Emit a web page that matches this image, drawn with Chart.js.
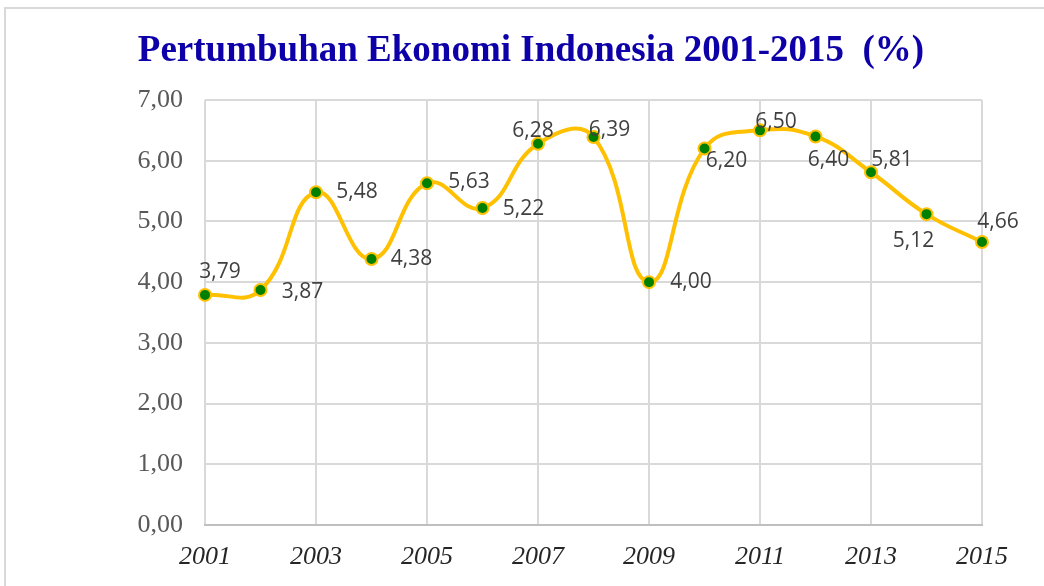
<!DOCTYPE html>
<html>
<head>
<meta charset="utf-8">
<script src="https://cdn.jsdelivr.net/npm/chart.js@4/dist/chart.umd.min.js"></script>
<style>
  html, body { margin: 0; padding: 0; background: #fff; overflow: hidden; }
  #frame { position: absolute; left: 4px; top: 7px; width: 1100px; height: 700px; border: 2px solid #d9d9d9; }
  #wrap { position: absolute; left: 0; top: 0; width: 1044px; height: 586px; }
</style>
</head>
<body>
<div id="frame"></div>
<div id="wrap"><canvas id="myChart" width="1044" height="586"></canvas></div>
<script>
// data
const years = ['2001', '2002', '2003', '2004', '2005', '2006', '2007', '2008',
               '2009', '2010', '2011', '2012', '2013', '2014', '2015'];
const growth = [3.79, 3.87, 5.48, 4.38, 5.63, 5.22, 6.28, 6.39,
                4.00, 6.20, 6.50, 6.40, 5.81, 5.12, 4.66];
const yTicks = [0, 1, 2, 3, 4, 5, 6, 7];

// where each value label sits relative to its point (dx, dy)
const labelOffsets = [
    [15, -23], [42, 2], [41, 0], [40, 0], [42, -1], [41, 1], [-5, -13], [16, -7],
    [42, 0], [22, 12], [16, -8], [13, 24], [21, -12], [-13, 27], [16, -20]
];

function fmt(v) {
    return v.toFixed(2).replace('.', ',');
}

const valueLabels = {
    id: 'valueLabels',
    afterDatasetsDraw(chart) {
        const ctx = chart.ctx;
        const meta = chart.getDatasetMeta(0);
        ctx.save();
        ctx.font = '21px "Open Sans", sans-serif';
        ctx.fillStyle = '#404040';
        ctx.textAlign = 'center';
        ctx.textBaseline = 'middle';
        meta.data.forEach(function (pt, i) {
            const off = labelOffsets[i];
            ctx.fillText(fmt(growth[i]), pt.x + off[0], pt.y + off[1]);
        });
        ctx.restore();
    }
};

const ctx = document.getElementById('myChart');

new Chart(ctx, {
    type: 'line',
    data: {
        labels: years,
        datasets: [{
            label: 'Pertumbuhan',
            data: growth,
            borderColor: '#FFC000',
            borderWidth: 4,
            tension: 0.45,
            pointBackgroundColor: '#008000',
            pointBorderColor: '#FFC000',
            pointBorderWidth: 2,
            pointRadius: 6,
            fill: false
        }]
    },
    options: {
        responsive: false,
        animation: false,
        layout: { padding: { left: 0, right: 62, top: 100, bottom: 0 } },
        plugins: {
            legend: { display: false },
            tooltip: { enabled: false },
            title: { display: false }
        },
        scales: {
            x: {
                offset: false,
                grid: {
                    color: function (c) { return c.index % 2 === 0 ? '#d9d9d9' : 'rgba(0,0,0,0)'; },
                    lineWidth: 2,
                    drawTicks: false
                },
                border: { color: '#bfbfbf', width: 2 },
                ticks: {
                    autoSkip: false,
                    maxRotation: 0,
                    padding: 17,
                    color: '#262626',
                    font: { family: '"Liberation Serif", serif', size: 26, style: 'italic' },
                    callback: function (val, i) { return i % 2 === 0 ? years[i] : ''; }
                },
                afterFit: function (s) { s.height = 61; }
            },
            y: {
                min: yTicks[0],
                max: yTicks[yTicks.length - 1],
                afterBuildTicks: function (s) { s.ticks = yTicks.map(function (v) { return { value: v }; }); },
                grid: { color: '#d9d9d9', lineWidth: 2, drawTicks: false },
                border: { display: false },
                ticks: {
                    padding: 22,
                    color: '#595959',
                    font: { family: '"Liberation Serif", serif', size: 26 },
                    callback: function (v) { return fmt(v); }
                },
                afterFit: function (s) { s.width = 205; }
            }
        }
    },
    plugins: [valueLabels, {
        id: 'titleText',
        afterDraw(chart) {
            const c = chart.ctx;
            c.save();
            c.font = 'bold 37px "Liberation Serif", serif';
            c.fillStyle = '#0E00A8';
            c.textAlign = 'center';
            c.textBaseline = 'middle';
            c.fillText('Pertumbuhan Ekonomi Indonesia 2001-2015  (%)', 531, 51);
            c.restore();
        }
    }]
});
</script>
</body>
</html>
